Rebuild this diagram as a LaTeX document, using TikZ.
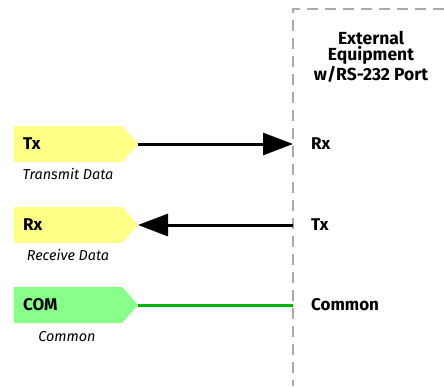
\documentclass[tikz,border=0pt]{standalone}
\usepackage{fontspec}
\setmainfont{Fira Sans}
\usetikzlibrary{arrows.meta}
\definecolor{sigyellow}{HTML}{FFFF88}
\definecolor{siggreen}{HTML}{88FF88}
\definecolor{wiregreen}{HTML}{00B400}
\definecolor{dashgray}{HTML}{AAAAAA}
\tikzset{
  pinlabel/.style={font=\bfseries\fontsize{17}{19}\selectfont, anchor=west, inner sep=0pt},
  pindesc/.style={font=\itshape\fontsize{14.4}{16}\selectfont, inner sep=0pt},
  extlabel/.style={font=\bfseries\fontsize{17}{19}\selectfont, anchor=west, inner sep=0pt},
  wire/.style={line width=3pt},
  bigarrow/.style={-{Triangle[length=30pt,width=22pt]}},
  border/.style={dashgray, line width=1.8pt, dash pattern=on 11pt off 7pt},
}
\begin{document}
\begin{tikzpicture}[x=1pt,y=-1pt]
\useasboundingbox (0,0) rectangle (444,386);
% external boundary
\draw[border] (444,9) -- (293,9) -- (293,386);
\node[font=\bfseries\fontsize{17.5}{16.5}\selectfont, align=center, inner sep=0pt, anchor=base] (ext) at (371,80) {External\\Equipment\\w/RS-232 Port};
% pin boxes
\fill[sigyellow] (14,126) -- (122,126) -- (138,144) -- (122,162) -- (14,162) -- cycle;
\coordinate (txtip) at (138,144);
\fill[sigyellow] (14,207) -- (122,207) -- (138,225) -- (122,243) -- (14,243) -- cycle;
\coordinate (rxtip) at (138,225);
\fill[siggreen] (14,287) -- (122,287) -- (138,305) -- (122,323) -- (14,323) -- cycle;
\coordinate (comtip) at (138,305);
\node[pinlabel] (tx) at (23,144) {Tx};
\node[pinlabel] (rx) at (23,225) {Rx};
\node[pinlabel] (com) at (23,305) {COM};
\node[pindesc] (txd) at (68,174) {Transmit Data};
\node[pindesc] (rxd) at (68,255) {Receive Data};
\node[pindesc] (comd) at (67,337) {Common};
% external pins
\coordinate (erx) at (293,144);
\coordinate (etx) at (293,225);
\coordinate (ecom) at (293,305);
\node[extlabel] (erxl) at (311,144) {Rx};
\node[extlabel] (etxl) at (311,225) {Tx};
\node[extlabel] (ecoml) at (311,305) {Common};
% wires
\draw[wire, bigarrow] (txtip) -- (erx);
\draw[wire, bigarrow] (etx) -- (rxtip);
\draw[wire, wiregreen] (comtip) -- (ecom);
\end{tikzpicture}
\end{document}
